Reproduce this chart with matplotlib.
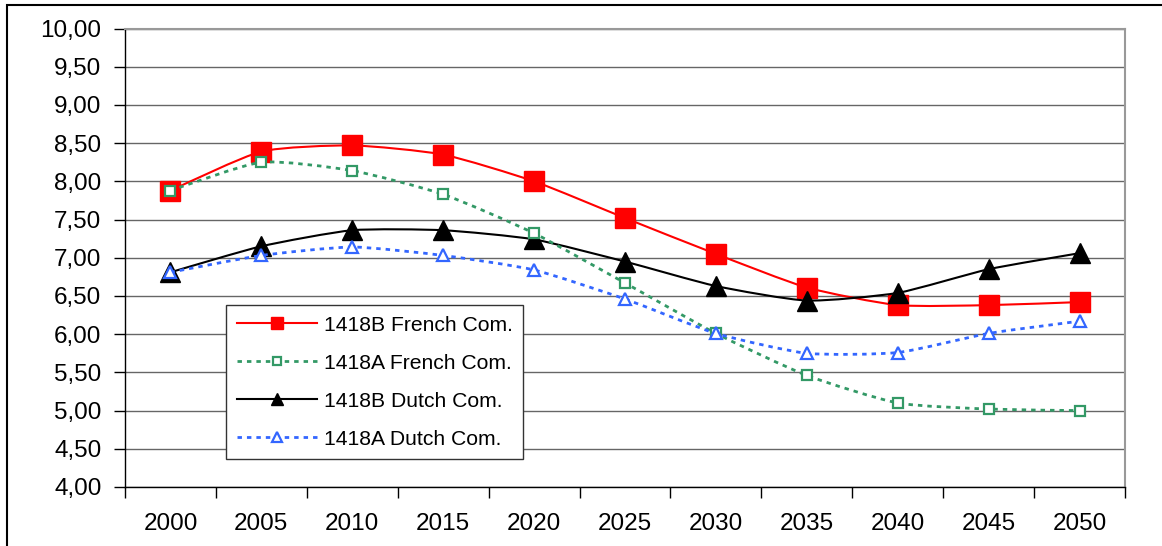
import matplotlib.pyplot as plt
from matplotlib.path import Path
from matplotlib.patches import PathPatch, Rectangle
from matplotlib.lines import Line2D

years = ['2000', '2005', '2010', '2015', '2020', '2025', '2030', '2035', '2040', '2045', '2050']
french_b = [7.88, 8.39, 8.47, 8.35, 8.00, 7.52, 7.05, 6.61, 6.38, 6.38, 6.42]
french_a = [7.88, 8.25, 8.14, 7.83, 7.32, 6.67, 6.01, 5.46, 5.10, 5.02, 5.00]
dutch_b = [6.81, 7.15, 7.36, 7.36, 7.24, 6.95, 6.63, 6.44, 6.54, 6.85, 7.06]
dutch_a = [6.81, 7.03, 7.14, 7.03, 6.84, 6.46, 6.01, 5.75, 5.76, 6.01, 6.17]
y_ticks = [4.0, 4.5, 5.0, 5.5, 6.0, 6.5, 7.0, 7.5, 8.0, 8.5, 9.0, 9.5, 10.0]

plt.rcParams['font.family'] = ['Liberation Sans', 'DejaVu Sans']
FS = 17.5
LEG_FS = 15.2


def smooth_path(ys, k=10.0):
    # smoothed line like Excel: cubic bezier through every point
    pts = list(enumerate(ys))
    n = len(pts)
    verts = [pts[0]]
    codes = [Path.MOVETO]
    for i in range(n - 1):
        p0 = pts[max(i - 1, 0)]
        p1 = pts[i]
        p2 = pts[i + 1]
        p3 = pts[min(i + 2, n - 1)]
        c1 = (p1[0] + (p2[0] - p0[0]) / k, p1[1] + (p2[1] - p0[1]) / k)
        c2 = (p2[0] - (p3[0] - p1[0]) / k, p2[1] - (p3[1] - p1[1]) / k)
        verts += [c1, c2, p2]
        codes += [Path.CURVE4] * 3
    return Path(verts, codes)


fig = plt.figure(figsize=(11.62, 5.46), dpi=100)
ax = fig.add_axes([125 / 1162, 1 - 487 / 546, 1000 / 1162, 458.5 / 546])

series = [
    ('1418B French Com.', french_b, dict(color='#FF0000', ls='-', lw=1.5, marker='s', ms=14, lms=8,
                                         mfc='#FF0000', mec='#FF0000', mew=1, z=3)),
    ('1418A French Com.', french_a, dict(color='#339966', ls=(0, (1.6, 1.8)), lw=2, marker='s', ms=7.5, lms=6,
                                         mfc='white', mec='#339966', mew=1.6, z=5)),
    ('1418B Dutch Com.', dutch_b, dict(color='black', ls='-', lw=1.5, marker='^', ms=15, lms=9,
                                       mfc='black', mec='black', mew=1, z=4)),
    ('1418A Dutch Com.', dutch_a, dict(color='#3366FF', ls=(0, (1.6, 1.8)), lw=2, marker='^', ms=8.5, lms=7.5,
                                       mfc='white', mec='#3366FF', mew=1.6, z=6)),
]

handles = []
for label, vals, st in series:
    ax.add_patch(PathPatch(smooth_path(vals), fill=False, edgecolor=st['color'],
                           linestyle=st['ls'], linewidth=st['lw'], zorder=st['z'], capstyle='butt'))
    ax.plot(range(len(vals)), vals, linestyle='none', marker=st['marker'], ms=st['ms'],
            mfc=st['mfc'], mec=st['mec'], mew=st['mew'], zorder=st['z'] + 0.5)
    handles.append(Line2D([], [], color=st['color'], linestyle=st['ls'], linewidth=st['lw'],
                          marker=st['marker'], ms=st['lms'], mfc=st['mfc'], mec=st['mec'],
                          mew=st['mew'], label=label))

ax.set_xlim(-0.5, len(years) - 0.5)
ax.set_ylim(4, 10)
ax.set_yticks(y_ticks)
ax.set_yticklabels([('%.2f' % v).replace('.', ',') for v in y_ticks])
ax.set_xticks([i - 0.5 for i in range(len(years) + 1)])
ax.set_xticklabels([])
ax.set_xticks(range(len(years)), minor=True)
ax.set_xticklabels(years, minor=True)
ax.tick_params(axis='x', which='major', direction='out', length=8, width=1, color='black')
ax.tick_params(axis='x', which='minor', length=0, pad=19, labelsize=FS)
ax.tick_params(axis='y', direction='out', length=8, width=1, color='black', pad=9, labelsize=FS)

ax.grid(axis='y', color='#666666', linewidth=1)
ax.set_axisbelow(True)
for side in ['top', 'right']:
    ax.spines[side].set_color('#999999')
    ax.spines[side].set_linewidth(1.5)
for side in ['left', 'bottom']:
    ax.spines[side].set_color('black')
    ax.spines[side].set_linewidth(1)

leg = ax.legend(handles=handles, loc='upper left', bbox_to_anchor=(0.101, 0.397),
                borderaxespad=0, fontsize=LEG_FS, handlelength=3.8, handletextpad=0.33,
                labelspacing=0.9, borderpad=0.5, fancybox=False, framealpha=1)
leg.get_frame().set_edgecolor('#333333')
leg.get_frame().set_linewidth(1)
leg.set_zorder(10)

fig.patches.append(Rectangle((7 / 1162, -0.1), 1.2, 1 - 5 / 546 + 0.1, transform=fig.transFigure,
                             fill=False, edgecolor='black', linewidth=1.5))

fig.savefig('out.png', dpi=100)
